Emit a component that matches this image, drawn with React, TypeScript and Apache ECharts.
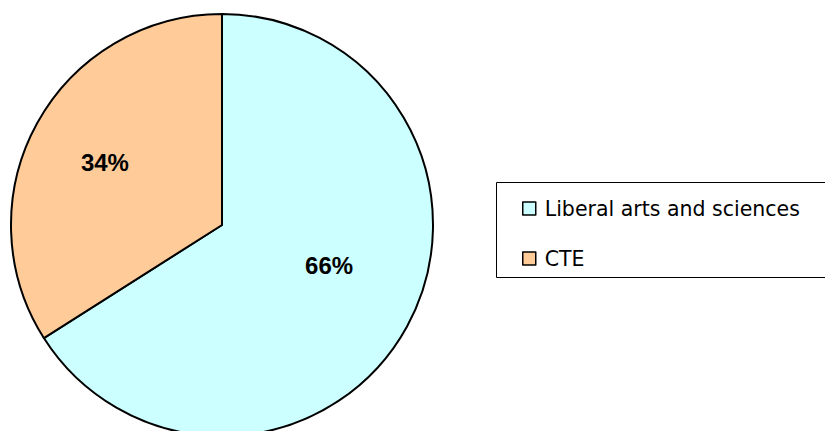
import React, { useEffect, useRef } from "react";
import * as echarts from "echarts";

const categories = ["Liberal arts and sciences", "CTE"];
const values = [66, 34];
const colors = ["#CCFFFF", "#FFCC99"];
const labelOffsets = [[12, -12], [-22, -10]];

export default function App() {
  const ref = useRef<HTMLDivElement>(null);
  useEffect(() => {
    const chart = echarts.init(ref.current!, null, { renderer: "svg" });
    chart.setOption({
      animation: false,
      graphic: [
        {
          type: "rect",
          shape: { x: 496.5, y: 182.5, width: 340, height: 95 },
          style: { fill: "#fff", stroke: "#000", lineWidth: 1 },
          z: 0,
        },
      ],
      legend: {
        orient: "vertical",
        left: 522,
        top: 198,
        icon: "rect",
        itemWidth: 13,
        itemHeight: 13,
        itemGap: 29,
        padding: 0,
        itemStyle: { borderColor: "#000", borderWidth: 1.5 },
        textStyle: {
          fontFamily: "DejaVu Sans",
          fontSize: 20.5,
          lineHeight: 20,
          color: "#000",
          padding: [0, 0, 0, 4],
        },
        data: categories,
        z: 5,
      },
      series: [
        {
          type: "pie",
          center: [222, 225],
          radius: 211,
          startAngle: 90,
          clockwise: true,
          silent: true,
          itemStyle: { borderColor: "#000", borderWidth: 2 },
          label: {
            show: true,
            position: "inside",
            formatter: (p: any) => p.value + "%",
            fontFamily: "Liberation Sans",
            fontWeight: "bold",
            fontSize: 24,
            color: "#000",
          },
          labelLine: { show: false },
          data: categories.map((c, i) => ({
            name: c,
            value: values[i],
            itemStyle: { color: colors[i] },
            label: { offset: labelOffsets[i] },
          })),
        },
      ],
    });
    return () => chart.dispose();
  }, []);
  return <div ref={ref} style={{ width: 825, height: 431, position: "absolute", left: 0, top: 0 }} />;
}
